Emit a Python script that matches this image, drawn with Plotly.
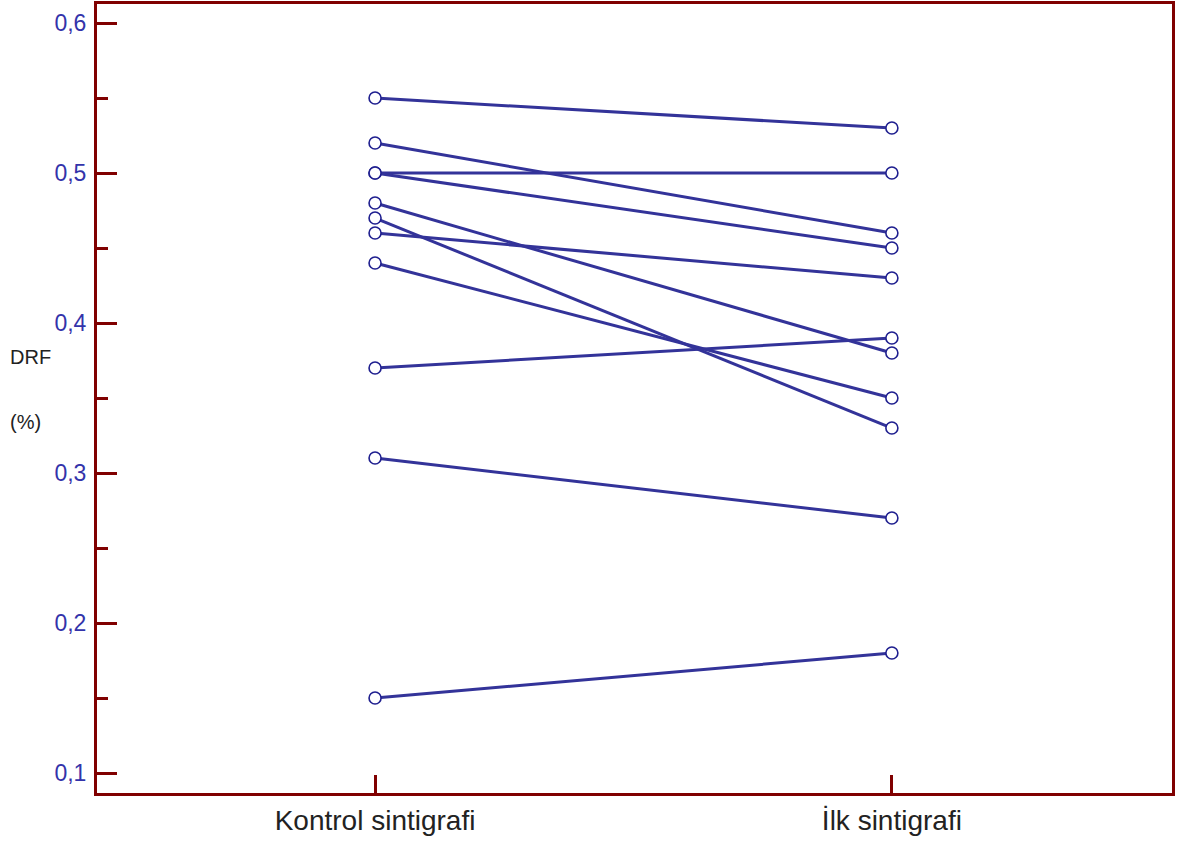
import plotly.graph_objects as go

categories = ["Kontrol sintigrafi", "İlk sintigrafi"]
kontrol = [0.55, 0.52, 0.50, 0.50, 0.48, 0.47, 0.46, 0.44, 0.37, 0.31, 0.15]
ilk = [0.53, 0.46, 0.50, 0.45, 0.38, 0.33, 0.43, 0.35, 0.39, 0.27, 0.18]
y_ticks = [0.1, 0.2, 0.3, 0.4, 0.5, 0.6]

LINE = "#333399"
AXIS = "#800000"

fig = go.Figure()
for a, b in zip(kontrol, ilk):
    fig.add_trace(go.Scatter(
        x=[0, 1], y=[a, b], mode="lines+markers",
        line=dict(color=LINE, width=3),
        marker=dict(symbol="circle", size=12, color="white",
                    line=dict(color="#1f1f8f", width=1.6)),
        showlegend=False, hoverinfo="y"))

fig.update_layout(
    width=1179, height=845,
    margin=dict(l=97, r=7, t=4, b=52),
    paper_bgcolor="white", plot_bgcolor="white",
    separators=",.",
    font=dict(family="Liberation Sans, Arial, sans-serif"),
)
fig.update_xaxes(
    range=[-0.538, 1.542], automargin=False,
    tickvals=[0, 1], ticktext=categories,
    tickfont=dict(size=28, color="#222222"),
    showgrid=False, zeroline=False,
    showline=True, linecolor=AXIS, linewidth=3, mirror=True,
    ticks="inside", ticklen=18, tickwidth=3, tickcolor=AXIS,
)
fig.update_yaxes(
    range=[0.0867, 0.6127], automargin=False,
    tickvals=y_ticks, ticktext=[f"{v:.1f}".replace(".", ",") for v in y_ticks],
    tickfont=dict(size=23, color="#3333aa"),
    ticklabelstandoff=3,
    showgrid=False, zeroline=False,
    showline=True, linecolor=AXIS, linewidth=3, mirror=True,
    ticks="inside", ticklen=20, tickwidth=3, tickcolor=AXIS,
    minor=dict(tickvals=[0.15, 0.25, 0.35, 0.45, 0.55], ticks="inside",
               ticklen=11, tickwidth=3, tickcolor=AXIS, showgrid=False),
)
fig.add_annotation(text="DRF", xref="paper", yref="paper", x=-0.083, y=0.553,
                   xanchor="left", yanchor="middle", showarrow=False,
                   font=dict(size=20, color="#222222"))
fig.add_annotation(text="(%)", xref="paper", yref="paper", x=-0.083, y=0.470,
                   xanchor="left", yanchor="middle", showarrow=False,
                   font=dict(size=20, color="#222222"))

fig.write_html("out.html", config={"displayModeBar": False},
               post_script="document.body.style.margin='0';")
